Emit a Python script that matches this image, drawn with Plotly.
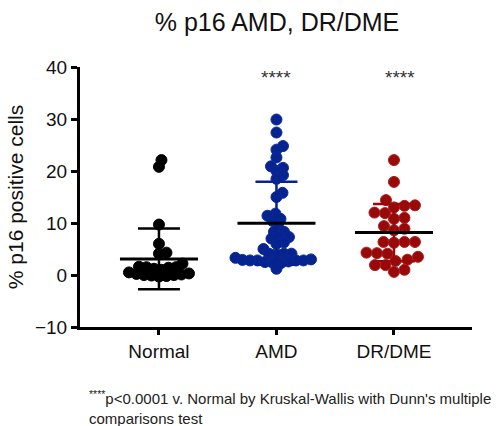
import plotly.graph_objects as go

# ---- data ----
categories = ["Normal", "AMD", "DR/DME"]
normal = [22.1, 20.8, 9.7, 6.0, 4.3, 4.1, 2.2, 1.6, 1.5, 1.5, 1.4, 1.2, 1.0,
          0.5, 0.3, 0.2, 0.1, 0.0, 0.0, -0.1, -0.2, -0.3]
amd = [29.9, 27.4, 24.8, 24.1, 22.6, 20.9, 20.6, 20.0, 19.2, 18.5, 15.8, 15.0,
       11.8, 11.4, 10.8, 10.4, 9.5, 8.3, 8.3, 7.3, 7.3, 7.0, 6.3, 6.0, 5.0,
       4.1, 4.0, 4.1, 4.1, 3.3, 3.0, 2.9, 2.8, 2.8, 2.8, 2.8, 2.6, 2.5, 2.4,
       2.3, 1.2]
drdme = [22.1, 17.9, 14.4, 13.4, 13.3, 13.0, 11.9, 12.0, 10.8, 11.0, 9.4, 8.9,
         8.6, 6.35, 6.35, 6.2, 6.35, 4.3, 4.2, 4.1, 3.5, 2.95, 2.7, 1.9, 1.9,
         1.0, 0.6]
means = [3.1, 9.95, 8.15]
sds = [5.85, 8.0, 5.5]
significance = ["", "****", "****"]
y_ticks = [-10, 0, 10, 20, 30, 40]

groups = [normal, amd, drdme]
colors = ["#000000", "#06238f", "#980a0a"]
edge_colors = ["#000000", "#0a2a9a", "#b01c1c"]

# ---- layout geometry ----
W, H = 499, 426
ML, MR, MT, MB = 80, 27, 67, 99
x_range = [-0.672, 2.664]
y_range = [-10, 40]
plot_w = W - ML - MR
plot_h = H - MT - MB
px_x = plot_w / (x_range[1] - x_range[0])
px_y = plot_h / (y_range[1] - y_range[0])
DOT = 11            # drawn marker diameter (px)
SPACING = [7.2, 7.2, 10.5]   # allowed centre distance per group (px)
MEAN_HALF = 39      # half length of mean line (px)


def beeswarm(values, dist):
    """Place points horizontally so that centres are at least `dist` px apart."""
    order = sorted(range(len(values)), key=lambda i: values[i])
    placed = []
    offsets = [0.0] * len(values)
    for i in order:
        yp = values[i] * px_y
        best = None
        for step in range(0, 400):
            for sgn in ([1] if step == 0 else [1, -1]):
                cand = sgn * step * 0.5
                if all((xo - cand) ** 2 + (yo - yp) ** 2 >= dist ** 2
                       for (xo, yo) in placed):
                    best = cand
                    break
            if best is not None:
                break
        placed.append((best, yp))
        offsets[i] = best
    return offsets


fig = go.Figure()

for gi, vals in enumerate(groups):
    offs = beeswarm(vals, SPACING[gi])
    xs = [gi + o / px_x for o in offs]
    fig.add_trace(go.Scatter(
        x=xs, y=vals, mode="markers",
        marker=dict(size=DOT, color=colors[gi],
                    line=dict(width=1, color=edge_colors[gi])),
        hoverinfo="y", showlegend=False))

for gi in range(len(categories)):
    # SD error bar (group colour)
    fig.add_trace(go.Scatter(
        x=[gi], y=[means[gi]], mode="markers",
        marker=dict(size=1, opacity=0),
        error_y=dict(type="data", array=[sds[gi]], visible=True,
                     width=21, thickness=2.5, color=colors[gi]),
        hoverinfo="skip", showlegend=False))
    # mean line (black)
    hw = MEAN_HALF / px_x
    fig.add_trace(go.Scatter(
        x=[gi - hw, gi + hw], y=[means[gi], means[gi]], mode="lines",
        line=dict(width=3, color="#000000"),
        hoverinfo="skip", showlegend=False))

for gi, s in enumerate(significance):
    if s:
        fig.add_annotation(
            x=gi + (0.05 if gi == 2 else 0.0), y=38.0, xref="x", yref="y",
            text=s, showarrow=False,
            font=dict(family="Liberation Sans, Arial", size=19, color="#333333"),
            yanchor="middle")

fig.add_annotation(
    xref="paper", yref="paper", x=(87 - ML) / plot_w, y=-(386 - (H - MB)) / plot_h,
    xanchor="left", yanchor="top", align="left", showarrow=False,
    text="<sup>****</sup>p<0.0001 v. Normal by Kruskal-Wallis with Dunn's multiple<br>comparisons test",
    font=dict(family="Liberation Sans, Arial", size=15, color="#222222"))

fig.update_layout(
    width=W, height=H,
    margin=dict(l=ML, r=MR, t=MT, b=MB),
    paper_bgcolor="white", plot_bgcolor="white",
    title=dict(text="% p16 AMD, DR/DME", x=277 / W, xanchor="center",
               y=1 - 22 / H, yanchor="middle",
               font=dict(family="Liberation Sans, Arial", size=25, color="#111111")),
    font=dict(family="Liberation Sans, Arial", color="#111111"),
)

fig.update_xaxes(
    range=x_range, tickmode="array", tickvals=list(range(len(categories))),
    ticktext=categories, showgrid=False, zeroline=False,
    showline=True, linewidth=3, linecolor="#000000",
    ticks="outside", ticklen=5, tickwidth=3, tickcolor="#000000",
    tickfont=dict(size=19, color="#111111"))

fig.update_yaxes(
    range=y_range, tickmode="array", tickvals=y_ticks,
    showgrid=False, zeroline=False,
    showline=True, linewidth=3, linecolor="#000000",
    ticks="outside", ticklen=6, tickwidth=3, tickcolor="#000000",
    tickfont=dict(size=19, color="#111111"),
    title=dict(text="% p16 positive cells", standoff=6,
               font=dict(size=21, color="#111111")))

fig.write_html("out.html", config={"displayModeBar": False},
               post_script="document.body.style.margin='0px';")
